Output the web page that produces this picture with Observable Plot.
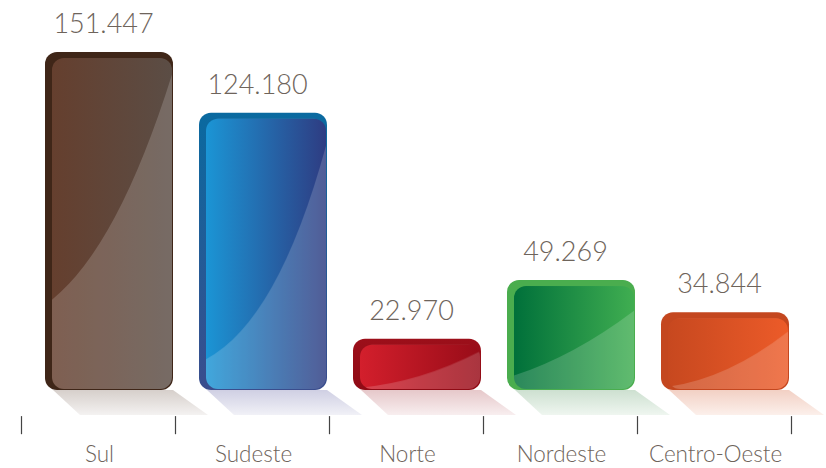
<!DOCTYPE html>
<html><head><meta charset="utf-8">
<script src="https://cdn.jsdelivr.net/npm/d3@7"></script>
<script src="https://cdn.jsdelivr.net/npm/@observablehq/plot@0.6"></script>
<style>body{margin:0;background:#fff}</style>
</head><body><div id="chart"></div>
<script>
const regions = ["Sul", "Sudeste", "Norte", "Nordeste", "Centro-Oeste"];
const values = [151.447, 124.180, 22.970, 49.269, 34.844];
const valueLabels = ["151.447", "124.180", "22.970", "49.269", "34.844"];

// styles
const frontColors = [["#653f2e","#5b4d45"],["#1b95d5","#2e3c82"],["#d31f2c","#980c18"],["#00703a","#40ae51"],["#c7481f","#ec5b29"]];
const backColors = [["#3f2618","#3f2618"],["#0a6aa0","#3a4d8d"],["#9c0f1a","#8f0b15"],["#4aad4e","#4aad4e"],["#c4471f","#c4471f"]];
const shadowColors = [["#d6cfcb","#f4f2f1"],["#cfcfe3","#f1f1f7"],["#e6c8ca","#f8eeef"],["#cde0d0","#eff6f0"],["#f2d0c4","#fcf0eb"]];
const highlightCurves = [[0.73,0.55,0.57,0.05],[0.89,0.6,0.75,0.1],[0.97,0.5,0.85,0.15],[0.87,0.5,0.68,0.24],[0.97,0.5,0.85,0.19]];

const data = regions.map((r, i) => ({region: r, value: values[i], label: valueLabels[i], i}));

const barW = 128, shLeft = 8, shDropL = 27, shDropR = 35;
const shW = barW - shLeft + shDropR;

function defs() {
  const d = d3.create("svg:defs");
  data.forEach((_, i) => {
    const fg = d.append("linearGradient").attr("id", `front${i}`).attr("x1", 0).attr("x2", 1).attr("y1", 0).attr("y2", 0);
    fg.append("stop").attr("offset", 0).attr("stop-color", frontColors[i][0]);
    fg.append("stop").attr("offset", 1).attr("stop-color", frontColors[i][1]);
    const bg = d.append("linearGradient").attr("id", `back${i}`).attr("x1", 0).attr("x2", 0).attr("y1", 0).attr("y2", 1);
    bg.append("stop").attr("offset", 0).attr("stop-color", backColors[i][0]);
    bg.append("stop").attr("offset", 1).attr("stop-color", backColors[i][1]);
    const sg = d.append("linearGradient").attr("id", `sh${i}`).attr("x1", 0).attr("x2", 0).attr("y1", 0).attr("y2", 1);
    sg.append("stop").attr("offset", 0).attr("stop-color", shadowColors[i][0]);
    sg.append("stop").attr("offset", 1).attr("stop-color", shadowColors[i][1]);
    const sp = d.append("pattern").attr("id", `sp${i}`).attr("patternUnits", "objectBoundingBox")
      .attr("patternContentUnits", "objectBoundingBox").attr("width", 1).attr("height", 1);
    sp.append("path").attr("fill", `url(#sh${i})`)
      .attr("d", `M0,0 L${(barW - shLeft) / shW},0 L1,1 L${shDropL / shW},1 Z`);
    const hp = d.append("pattern").attr("id", `hp${i}`).attr("patternUnits", "objectBoundingBox")
      .attr("patternContentUnits", "objectBoundingBox").attr("width", 1).attr("height", 1);
    const [y0, cx, cy, y1] = highlightCurves[i];
    hp.append("path").attr("fill", "#ffffff").attr("fill-opacity", 0.17)
      .attr("d", `M0,${y0} Q${cx},${cy} 1,${y1} L1,1 L0,1 Z`);
  });
  return d.node();
}

const x0 = 21, x1 = 791, step = (x1 - x0) / regions.length;
const inset = (step - barW) / 2;
const barDx = 11;
const textColor = "#6e645b";

const plot = Plot.plot({
  width: 826, height: 468, margin: 0,
  style: {fontFamily: "Lato, 'Open Sans', sans-serif", background: "#fff"},
  x: {type: "band", domain: regions, range: [x0, x1], padding: 0, axis: null},
  y: {domain: [0, 151.447], range: [390, 52], axis: null},
  marks: [
    defs,
    Plot.barY(data, {x: "region", y1: 0, y2: -11.2, fill: d => `url(#sp${d.i})`, insetLeft: inset + shLeft, insetRight: inset - shDropR, dx: barDx}),
    Plot.barY(data, {x: "region", y: "value", fill: d => `url(#back${d.i})`, rx: 12, insetLeft: inset, insetRight: inset, dx: barDx}),
    Plot.barY(data, {x: "region", y: "value", fill: d => `url(#front${d.i})`, rx: 12, insetLeft: inset + 7, insetRight: inset + 1, insetTop: 6, insetBottom: 1, dx: barDx}),
    Plot.barY(data, {x: "region", y: "value", fill: d => `url(#hp${d.i})`, rx: 12, insetLeft: inset + 7, insetRight: inset + 1, insetTop: 6, insetBottom: 1, dx: barDx}),
    Plot.ruleX(regions, {x: d => d, y1: -11.7, y2: -19.8, dx: -step / 2, stroke: "#444", strokeWidth: 1.2}),
    Plot.ruleX([regions[regions.length - 1]], {x: d => d, y1: -11.7, y2: -19.8, dx: step / 2, stroke: "#444", strokeWidth: 1.2}),
    Plot.text(data, {x: "region", y: "value", text: "label", dy: -28, dx: 5, fontSize: 27, fontWeight: 300, fill: textColor}),
    Plot.text(regions, {x: d => d, y: -29, text: d => d, dx: 1, fontSize: 22.5, fontWeight: 300, fill: textColor})
  ]
});

document.getElementById("chart").appendChild(plot);
</script>
</body></html>
